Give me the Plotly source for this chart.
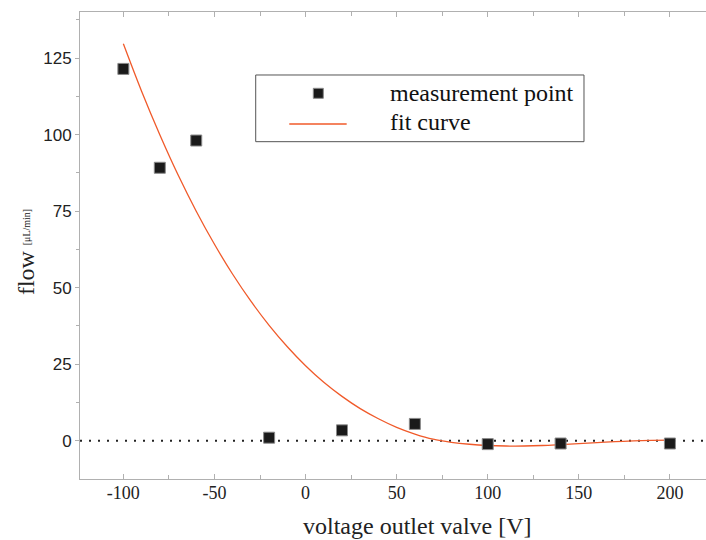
import plotly.graph_objects as go

# ---- data ----
meas_x = [-100, -80, -60, -20, 20, 60, 100, 140, 200]
meas_y = [121.5, 89.2, 98.1, 1.0, 3.4, 5.5, -1.1, -0.9, -0.9]

fit_x = [-100, -90, -80, -70, -60, -50, -40, -30, -20, -10, 0, 10, 20, 30, 40, 50,
         60, 70, 80, 90, 100, 110, 120, 130, 140, 150, 160, 170, 180, 190, 200]
fit_y = [129.7, 114.2, 100.0, 86.9, 75.0, 64.2, 54.4, 45.6, 37.7, 30.7, 24.5, 19.1,
         14.5, 10.5, 7.2, 4.4, 2.2, 0.5, -0.5, -1.15, -1.55, -1.72, -1.72, -1.55, -1.25,
         -0.92, -0.6, -0.3, -0.07, 0.1, 0.2]

x_ticks = [-100, -50, 0, 50, 100, 150, 200]
x_ticktext = ["-100", "-50", "0", "50", "100", "150", "200"]
x_minor = [-75, -25, 25, 75, 125, 175]
y_ticks = [0, 25, 50, 75, 100, 125]
y_minor = [12.5, 37.5, 62.5, 87.5, 112.5, 137.5]

legend_labels = ["measurement point", "fit curve"]
x_title = "voltage outlet valve [V]"
y_title = "flow"
y_unit = "[μL/min]"

SERIF = "Liberation Serif, Times New Roman, serif"
SANS = "Liberation Sans, Arial, sans-serif"
AX = "#b0b0b0"
FIT = "#f05a2a"
MARK = "#1a1a1a"

fig = go.Figure()
fig.add_trace(go.Scatter(x=fit_x, y=fit_y, mode="lines", line=dict(color=FIT, width=1.3, shape="spline"),
                         showlegend=False, hoverinfo="skip"))
fig.add_trace(go.Scatter(x=meas_x, y=meas_y, mode="markers",
                         marker=dict(symbol="square", size=11, color=MARK, line=dict(color="#8a8a8a", width=1)),
                         showlegend=False))

# dotted zero line
fig.add_shape(type="line", xref="paper", x0=0, x1=1, yref="y", y0=0, y1=0,
              line=dict(color="#222222", width=2, dash="2px,7px"), layer="below")

# hand-made legend box (matches reference spacing)
fig.add_shape(type="rect", xref="paper", yref="paper", x0=0.2807, x1=0.8051, y0=0.7223, y1=0.8651,
              line=dict(color="#555555", width=1), fillcolor="white", layer="above")
fig.add_shape(type="rect", xref="paper", yref="paper", x0=0.3807 - 0.0080, x1=0.3807 + 0.0080,
              y0=0.8259 - 0.0107, y1=0.8259 + 0.0107, line=dict(color="#8a8a8a", width=1),
              fillcolor=MARK, layer="above")
fig.add_shape(type="line", xref="paper", yref="paper", x0=0.3343, x1=0.4260, y0=0.7602, y1=0.7602,
              line=dict(color=FIT, width=1.3), layer="above")
fig.add_annotation(text=legend_labels[0], xref="paper", yref="paper", x=0.4925, y=0.8260,
                   xanchor="left", yanchor="middle", showarrow=False,
                   font=dict(family=SERIF, size=24, color="#111111"))
fig.add_annotation(text=legend_labels[1], xref="paper", yref="paper", x=0.4925, y=0.7644,
                   xanchor="left", yanchor="middle", showarrow=False,
                   font=dict(family=SERIF, size=24, color="#111111"))

# axis titles
fig.add_annotation(text=x_title, xref="paper", yref="paper", x=0.539, y=-0.100,
                   xanchor="center", yanchor="middle", showarrow=False,
                   font=dict(family=SERIF, size=24, color="#222222"))
fig.add_annotation(text=y_title, xref="paper", yref="paper", x=-0.0863, y=0.4430,
                   xanchor="center", yanchor="middle", showarrow=False, textangle=-90,
                   font=dict(family=SERIF, size=24, color="#222222"))
fig.add_annotation(text=y_unit, xref="paper", yref="paper", x=-0.0855, y=0.540,
                   xanchor="center", yanchor="middle", showarrow=False, textangle=-90,
                   font=dict(family=SERIF, size=10, color="#222222"))

fig.update_layout(
    width=706, height=540,
    margin=dict(l=80, r=0, t=12, b=61),
    plot_bgcolor="white", paper_bgcolor="white",
    showlegend=False,
    xaxis=dict(range=[-123.8, 219.8], tickvals=x_ticks, ticktext=x_ticktext, ticks="inside", ticklen=5,
               tickcolor=AX, ticklabelstandoff=-3,
               showline=True, linecolor=AX, linewidth=1, mirror="ticks", showgrid=False, zeroline=False,
               tickfont=dict(family=SERIF, size=18, color="#222222"),
               minor=dict(tickvals=x_minor, ticks="inside", ticklen=4, tickcolor=AX, showgrid=False)),
    yaxis=dict(range=[-12.5, 140.1], tickvals=y_ticks, ticks="outside", ticklen=4, tickcolor=AX,
               showline=True, linecolor=AX, linewidth=1, mirror=False, showgrid=False, zeroline=False,
               tickfont=dict(family=SANS, size=17, color="#222222"),
               minor=dict(tickvals=y_minor, ticks="outside", ticklen=3, tickcolor=AX, showgrid=False)),
)

fig.write_html("out.html")
